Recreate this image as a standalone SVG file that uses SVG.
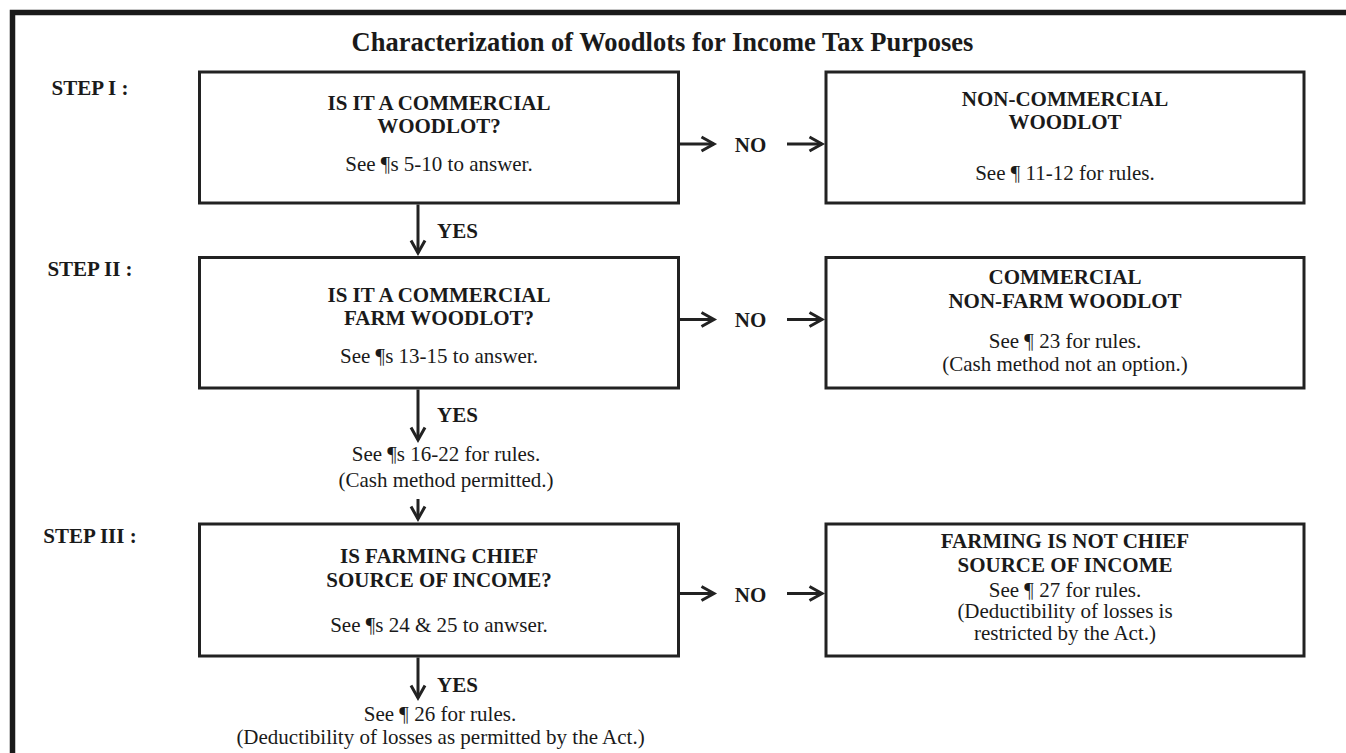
<svg xmlns="http://www.w3.org/2000/svg" width="1346" height="753" viewBox="0 0 1346 753">
<style>
.t{font-family:"Liberation Serif","Times New Roman",serif;fill:#1a1a1a}
.b{font-weight:bold;font-size:21px}
.r{font-size:21px}
.c{text-anchor:middle}
.title{font-weight:bold;font-size:26.5px}
.box{fill:#fff;stroke:#222;stroke-width:3}
.ln{stroke:#222;stroke-width:3;fill:none;marker-end:url(#ah)}
</style>
<defs>
<marker id="ah" viewBox="0 0 16 16" markerUnits="userSpaceOnUse" markerWidth="16" markerHeight="16" refX="14" refY="8" orient="auto" overflow="visible">
<path d="M1.5,1 L14,8 L1.5,15" fill="none" stroke="#222" stroke-width="3"/>
</marker>
</defs>
<rect x="0" y="0" width="1346" height="753" fill="#fff"/>
<path d="M12.5,753 V12.5 H1346" fill="none" stroke="#1a1a1a" stroke-width="5.5"/>
<text class="t title c" x="662.5" y="50.5">Characterization of Woodlots for Income Tax Purposes</text>
<g id="steps">
<text class="t b c" x="90" y="95">STEP I :</text>
<text class="t b c" x="90" y="276">STEP II :</text>
<text class="t b c" x="90" y="543">STEP III :</text>
</g>
<g id="q1">
<rect class="box" x="199.5" y="72" width="479" height="131"/>
<text class="t b c" x="439" y="110">IS IT A COMMERCIAL</text>
<text class="t b c" x="439" y="133">WOODLOT?</text>
<text class="t r c" x="439" y="171">See ¶s 5-10 to answer.</text>
</g>
<g id="noncommercial">
<rect class="box" x="826" y="72" width="478" height="131"/>
<text class="t b c" x="1065" y="106">NON-COMMERCIAL</text>
<text class="t b c" x="1065" y="129">WOODLOT</text>
<text class="t r c" x="1065" y="180">See ¶ 11-12 for rules.</text>
</g>
<g id="q2">
<rect class="box" x="199.5" y="257.5" width="479" height="130.5"/>
<text class="t b c" x="439" y="301.5">IS IT A COMMERCIAL</text>
<text class="t b c" x="439" y="324.5">FARM WOODLOT?</text>
<text class="t r c" x="439" y="363">See ¶s 13-15 to answer.</text>
</g>
<g id="nonfarm">
<rect class="box" x="826" y="257.5" width="478" height="130.5"/>
<text class="t b c" x="1065" y="284">COMMERCIAL</text>
<text class="t b c" x="1065" y="307.5">NON-FARM WOODLOT</text>
<text class="t r c" x="1065" y="348">See ¶ 23 for rules.</text>
<text class="t r c" x="1065" y="370.5">(Cash method not an option.)</text>
</g>
<g id="farm">
<text class="t r c" x="446" y="461">See ¶s 16-22 for rules.</text>
<text class="t r c" x="446" y="487">(Cash method permitted.)</text>
</g>
<g id="q3">
<rect class="box" x="199.5" y="524" width="479" height="132"/>
<text class="t b c" x="439" y="563">IS FARMING CHIEF</text>
<text class="t b c" x="439" y="586.5">SOURCE OF INCOME?</text>
<text class="t r c" x="439" y="631.5">See ¶s 24 &amp; 25 to anwser.</text>
</g>
<g id="notchief">
<rect class="box" x="826" y="524" width="478" height="132"/>
<text class="t b c" x="1065" y="548">FARMING IS NOT CHIEF</text>
<text class="t b c" x="1065" y="571.5">SOURCE OF INCOME</text>
<text class="t r c" x="1065" y="596.5">See ¶ 27 for rules.</text>
<text class="t r c" x="1065" y="618">(Deductibility of losses is</text>
<text class="t r c" x="1065" y="640">restricted by the Act.)</text>
</g>
<g id="chief">
<text class="t r c" x="440" y="721">See ¶ 26 for rules.</text>
<text class="t r c" x="440.5" y="744">(Deductibility of losses as permitted by the Act.)</text>
</g>
<g id="connectors">
<line class="ln" x1="680" y1="144" x2="714" y2="144"/>
<line class="ln" x1="787" y1="144" x2="822" y2="144"/>
<line class="ln" x1="680" y1="319.5" x2="714" y2="319.5"/>
<line class="ln" x1="787" y1="319.5" x2="822" y2="319.5"/>
<line class="ln" x1="680" y1="593.5" x2="714" y2="593.5"/>
<line class="ln" x1="787" y1="593.5" x2="822" y2="593.5"/>
<line class="ln" x1="418" y1="204.5" x2="418" y2="253"/>
<line class="ln" x1="418" y1="389.5" x2="418" y2="440"/>
<line class="ln" x1="418" y1="499" x2="418" y2="519"/>
<line class="ln" x1="418" y1="657.5" x2="418" y2="698"/>
</g>
<g id="labels">
<text class="t b c" x="750.5" y="151.5">NO</text>
<text class="t b c" x="750.5" y="326.5">NO</text>
<text class="t b c" x="750.5" y="601.5">NO</text>
<text class="t b" x="437" y="237.5">YES</text>
<text class="t b" x="437" y="421.5">YES</text>
<text class="t b" x="437" y="691.5">YES</text>
</g>
</svg>
